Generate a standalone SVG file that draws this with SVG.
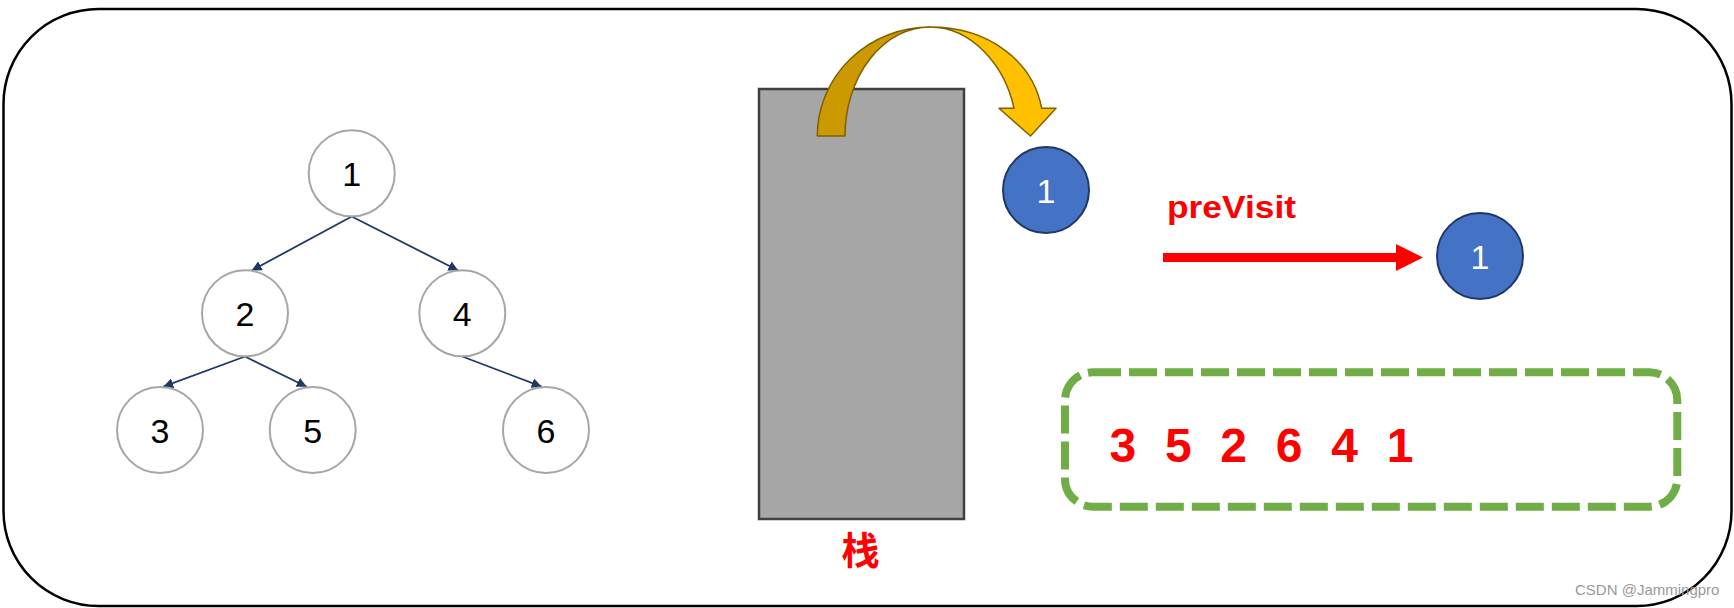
<svg xmlns="http://www.w3.org/2000/svg" width="1734" height="608" viewBox="0 0 1734 608">
<style>
.tn{fill:#fff;stroke:#a6a6a6;stroke-width:2}
.tt{font-family:"Liberation Sans",Arial,sans-serif;font-size:34px;fill:#000;text-anchor:middle}
.bn{fill:#4472c4;stroke:#203864;stroke-width:2}
.bt{font-family:"Liberation Sans",Arial,sans-serif;font-size:34px;fill:#fff;text-anchor:middle}
.edge{stroke:#1f3864;stroke-width:1.8;fill:none;marker-end:url(#ah)}
.red{fill:#ff0000;font-family:"Liberation Sans",Arial,"Noto Sans CJK SC",sans-serif;font-weight:bold}
</style>
<defs>
<marker id="ah" viewBox="0 0 10 10" refX="10" refY="5" markerWidth="10" markerHeight="10" markerUnits="userSpaceOnUse" orient="auto">
<path d="M0,0 L10,5 L0,10 Z" fill="#1f3864"/>
</marker>
</defs>
<rect id="frame" x="3.5" y="9" width="1728" height="597" rx="95" ry="95" fill="#fff" stroke="#000" stroke-width="2.5"/>
<g id="connectors">
<line class="edge" x1="351.7" y1="216.5" x2="251.7" y2="270.5"/>
<line class="edge" x1="351.7" y1="216.5" x2="458.3" y2="270.5"/>
<line class="edge" x1="245" y1="356.5" x2="163.3" y2="386.7"/>
<line class="edge" x1="245" y1="356.5" x2="306.7" y2="386.7"/>
<line class="edge" x1="462.3" y1="356.5" x2="541.7" y2="386.7"/>
</g>
<g id="n1"><circle class="tn" cx="351.7" cy="173.3" r="43"/><text class="tt" x="351.7" y="186">1</text></g>
<g id="n2"><circle class="tn" cx="245" cy="313.3" r="43"/><text class="tt" x="245" y="326">2</text></g>
<g id="n4"><circle class="tn" cx="462.3" cy="313.3" r="43"/><text class="tt" x="462.3" y="326">4</text></g>
<g id="n3"><circle class="tn" cx="160" cy="430" r="43"/><text class="tt" x="160" y="442.5">3</text></g>
<g id="n5"><circle class="tn" cx="312.7" cy="430" r="43"/><text class="tt" x="312.7" y="442.5">5</text></g>
<g id="n6"><circle class="tn" cx="546" cy="430" r="43"/><text class="tt" x="546" y="442.5">6</text></g>
<g id="stack">
<rect x="759" y="89" width="205" height="430" fill="#a6a6a6" stroke="#404040" stroke-width="2.5"/>
<text class="red" x="860.5" y="564" font-size="38" text-anchor="middle" font-family="'Noto Sans CJK SC',sans-serif">栈</text>
</g>
<g id="popArrow" stroke="#7f6000" stroke-width="1.5" stroke-linejoin="round">
<path d="M817.3,136 A113,109 0 0 1 930,27 A85,109 0 0 0 845,136 Z" fill="#cc9900"/>
<path d="M930,27 C990,27 1033,62 1041.7,108.3 L1056,108.3 L1030.5,136 L999,108.3 L1014,108.3 C1005,66 972,27 930,27 Z" fill="#ffc000"/>
</g>
<g id="popped"><circle class="bn" cx="1046" cy="190" r="43"/><text class="bt" x="1046" y="202.5">1</text></g>
<g id="visit">
<text class="red" x="1167" y="218.3" font-size="31" textLength="129" lengthAdjust="spacingAndGlyphs">preVisit</text>
<rect x="1163" y="253" width="234" height="9" fill="#ff0000"/>
<polygon points="1396,244 1423,257.5 1396,271" fill="#ff0000"/>
</g>
<g id="visited"><circle class="bn" cx="1480" cy="256" r="43"/><text class="bt" x="1480" y="268.5">1</text></g>
<g id="result">
<rect x="1065" y="372.3" width="612.3" height="134.4" rx="28" ry="28" fill="none" stroke="#70ad47" stroke-width="8" stroke-dasharray="28 8"/>
<text class="red" x="1109.5" y="461.7" font-size="48" letter-spacing="7.7">3 5 2 6 4 1</text>
</g>
<text x="1575" y="595" font-family="'Liberation Sans',Arial,sans-serif" font-size="15" fill="#999">CSDN @Jammingpro</text>
</svg>
